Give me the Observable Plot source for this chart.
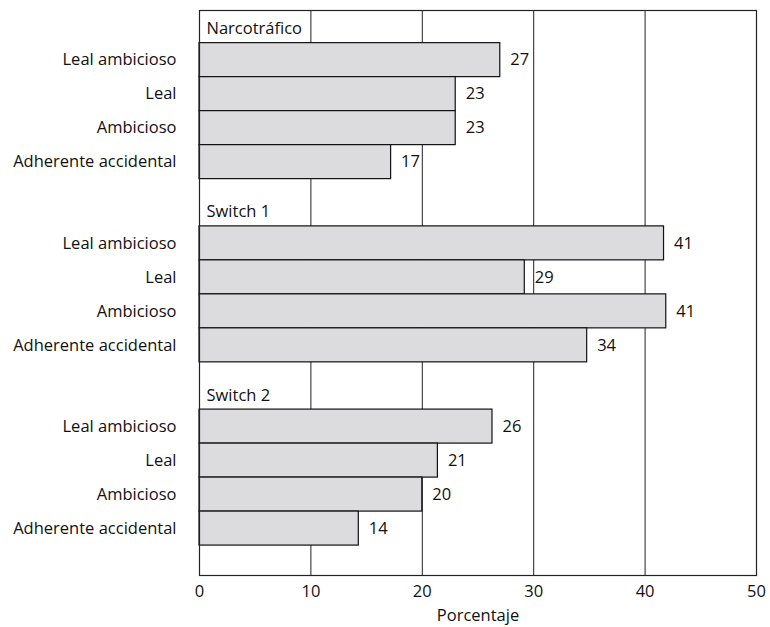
<!DOCTYPE html>
<html>
<head>
<meta charset="utf-8">
<script src="https://cdn.jsdelivr.net/npm/d3@7"></script>
<script src="https://cdn.jsdelivr.net/npm/@observablehq/plot@0.6"></script>
<style>
  html, body { margin: 0; padding: 0; background: #fff; }
  #chart svg { font-family: "Open Sans", sans-serif; }
</style>
</head>
<body>
<div id="chart"></div>
<script>
// ---- data ----
const groups = ["Narcotráfico", "Switch 1", "Switch 2"];
const categories = ["Leal ambicioso", "Leal", "Ambicioso", "Adherente accidental"];
const narcotraficoValues = [27.0, 23.0, 23.0, 17.2];
const switch1Values = [41.7, 29.2, 41.9, 34.8];
const switch2Values = [26.3, 21.4, 20.0, 14.3];
const narcotraficoLabels = ["27", "23", "23", "17"];
const switch1Labels = ["41", "29", "41", "34"];
const switch2Labels = ["26", "21", "20", "14"];
const xTicks = [0, 10, 20, 30, 40, 50];
const gridTicks = [10, 20, 30, 40];
const xLabel = "Porcentaje";

// ---- layout (row units: one bar = 1) ----
const HEAD = 0.96, PERIOD = 5.39, TOTAL = 16.62;
const FS = 16.5;
const seriesValues = [narcotraficoValues, switch1Values, switch2Values];
const seriesLabels = [narcotraficoLabels, switch1Labels, switch2Labels];

const rows = [];
groups.forEach((g, gi) => {
  categories.forEach((c, ci) => {
    const y1 = HEAD + gi * PERIOD + ci;
    rows.push({group: g, category: c, value: seriesValues[gi][ci], label: seriesLabels[gi][ci], y1, y2: y1 + 1, ym: y1 + 0.5});
  });
});
const headers = groups.map((g, gi) => ({text: g, y: HEAD + gi * PERIOD - 0.42}));

const chart = Plot.plot({
  width: 770,
  height: 627,
  marginLeft: 199,
  marginRight: 14,
  marginTop: 10,
  marginBottom: 52,
  style: {fontSize: FS + "px", fontFamily: "'Open Sans', sans-serif", color: "#111"},
  x: {domain: [0, 50]},
  y: {domain: [0, TOTAL], reverse: true, axis: null},
  marks: [
    Plot.ruleX(gridTicks, {stroke: "#222", strokeWidth: 1}),
    Plot.rectX(rows, {x1: 0, x2: "value", y1: "y1", y2: "y2", fill: "#dcdcde", stroke: "#111", strokeWidth: 1.2}),
    Plot.text(rows, {x: "value", y: "ym", text: "label", dx: 10, textAnchor: "start", fill: "#111", fontSize: FS}),
    Plot.text(rows, {x: 0, y: "ym", text: "category", dx: -23, textAnchor: "end", fill: "#111", fontSize: FS}),
    Plot.text(headers, {x: 0, y: "y", text: "text", dx: 7, textAnchor: "start", fill: "#111", fontSize: FS}),
    Plot.frame({stroke: "#222", strokeWidth: 1.2}),
    Plot.axisX({ticks: xTicks, tickSize: 0, tickPadding: 10, label: null, fontSize: FS, fill: "#111"}),
    Plot.text([xLabel], {frameAnchor: "bottom", dy: 40, lineAnchor: "middle", fill: "#111", fontSize: FS})
  ]
});
document.getElementById("chart").appendChild(chart);
</script>
</body>
</html>
